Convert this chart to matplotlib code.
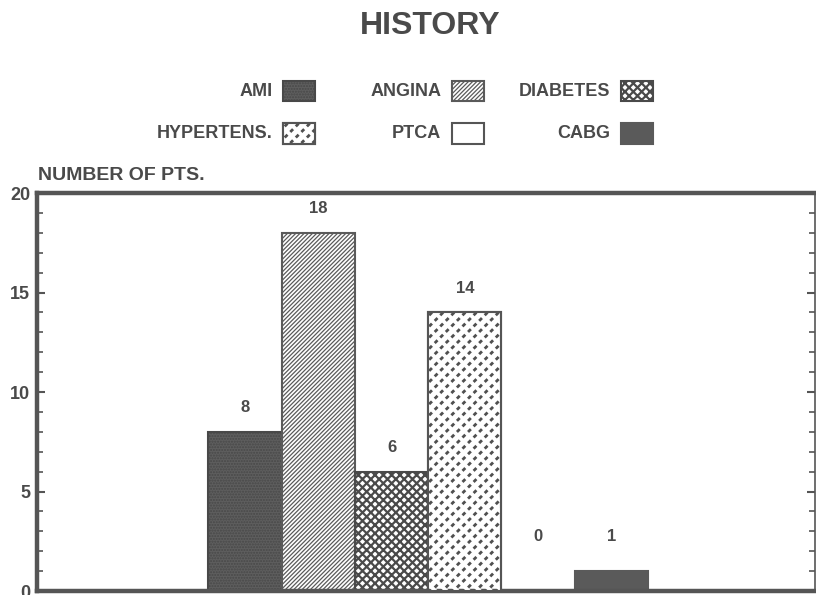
import matplotlib
matplotlib.use('Agg')
import matplotlib.pyplot as plt
from matplotlib.patches import Rectangle

categories = ['AMI', 'ANGINA', 'DIABETES', 'HYPERTENS.', 'PTCA', 'CABG']
counts = [8, 18, 6, 14, 0, 1]

# fill style per category: (face, edge, hatch, hatch linewidth)
styles = {
    'AMI': ('#5e5e5e', '#484848', '......', 1.0),
    'ANGINA': ('white', '#5a5a5a', '////////', 0.9),
    'DIABETES': ('white', '#4a4a4a', 'xxxx', 1.6),
    'HYPERTENS.': ('white', '#505050', '///', 2.0),
    'PTCA': ('white', '#555555', '', 1.0),
    'CABG': ('#5a5a5a', '#5a5a5a', '', 1.0),
}

TXT = '#4a4a4a'
EDGE = '#555555'
plt.rcParams['font.family'] = ['Liberation Sans', 'DejaVu Sans']
plt.rcParams['font.weight'] = 'bold'


def hatch_lw(patch, lw):
    if hasattr(patch, 'set_hatch_linewidth'):
        patch.set_hatch_linewidth(lw)


def styled_rect(xy, w, h, name, **kw):
    face, edge, hatch, lw = styles[name]
    parts = [Rectangle(xy, w, h, facecolor=face, edgecolor=edge, hatch=hatch,
                       linewidth=1.5, **kw)]
    hatch_lw(parts[0], lw)
    if name == 'HYPERTENS.':
        # white counter-hatch chops the diagonals into short dashes
        cut = Rectangle(xy, w, h, facecolor='none', edgecolor='white',
                        hatch='\\\\\\', linewidth=0, **kw)
        hatch_lw(cut, 2.8)
        parts.append(cut)
        parts.append(Rectangle(xy, w, h, facecolor='none', edgecolor=EDGE,
                               linewidth=1.5, **kw))
    return parts


fig = plt.figure(figsize=(8.16, 5.95), dpi=100)
ax = fig.add_axes([0.0453, 0.0067, 0.9535, 0.6688])

for i, name in enumerate(categories):
    for k, p in enumerate(styled_rect((i - 0.5, 0), 1.0, counts[i], name)):
        p.set_zorder(2 + k)
        ax.add_patch(p)
    ax.text(i, max(counts[i], 1.5) + 0.85, str(counts[i]), ha='center',
            va='bottom', fontsize=12, color=TXT, fontweight='bold')

ax.set_xlim(-2.84, 7.78)
ax.set_ylim(0, 20)
ax.set_xticks([])
ax.set_yticks([0, 5, 10, 15, 20])
ax.set_yticks(range(0, 21), minor=True)
ax.tick_params(axis='y', which='both', direction='in', right=True,
               colors=EDGE, labelcolor=TXT, labelsize=13, pad=5)
ax.tick_params(axis='y', which='major', length=6, width=1.5)
ax.tick_params(axis='y', which='minor', length=4, width=1.2)
for lbl in ax.get_yticklabels():
    lbl.set_fontweight('bold')
    lbl.set_verticalalignment('center_baseline')

ax.spines['left'].set_linewidth(3.2)
ax.spines['top'].set_linewidth(3.2)
ax.spines['bottom'].set_linewidth(3.2)
ax.spines['right'].set_linewidth(1.2)
for s in ax.spines.values():
    s.set_color(EDGE)

fig.text(0.527, 0.957, 'HISTORY', ha='center', va='center', fontsize=23,
         color=TXT, fontweight='bold')
fig.text(0.046, 0.705, 'NUMBER OF PTS.', ha='left', va='center', fontsize=14,
         color=TXT, fontweight='bold')

# legend: two rows of three, label to the left of its swatch
pw, ph = 0.039, 0.035
for i, name in enumerate(categories):
    col, row = i % 3, i // 3
    right = 0.386 + col * 0.207
    yc = 0.847 - row * 0.072
    for p in styled_rect((right - pw, yc - ph / 2), pw, ph, name,
                         transform=fig.transFigure):
        fig.add_artist(p)
    fig.text(right - pw - 0.013, yc, name, ha='right', va='center',
             fontsize=13, color=TXT, fontweight='bold')

fig.savefig('out.png', dpi=100)
